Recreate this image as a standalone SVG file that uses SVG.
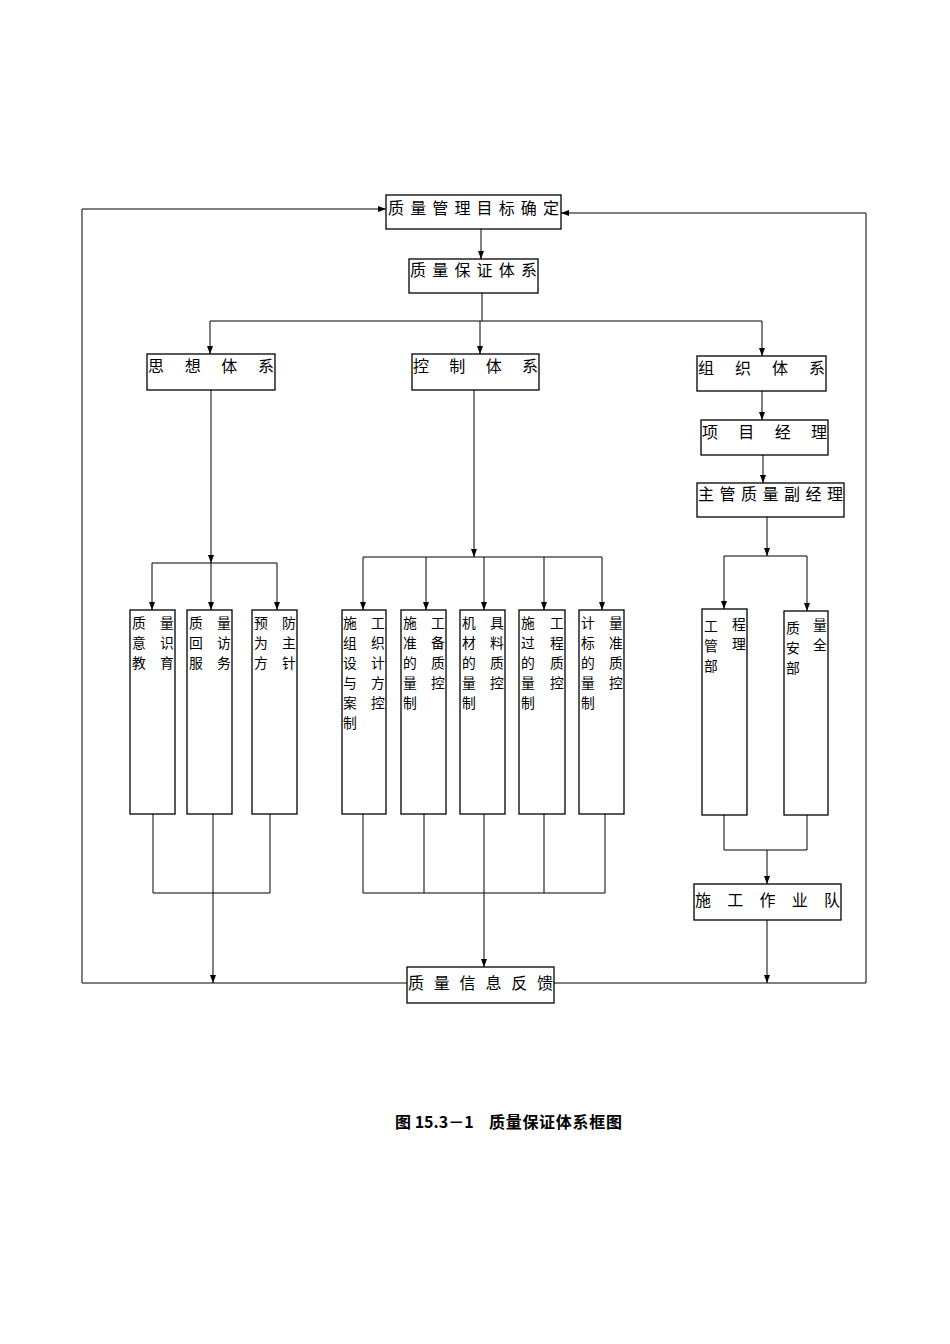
<svg xmlns="http://www.w3.org/2000/svg" width="950" height="1344" viewBox="0 0 950 1344">
<style>
.bg{fill:#fff}
.box{fill:#fff;stroke:#000;stroke-width:1.3}
.ln{fill:none;stroke:#000;stroke-width:1}
.t{font-family:"Noto Sans CJK SC","Noto Sans CJK JP",sans-serif;font-size:16px;fill:#000}
.v{font-family:"Noto Sans CJK SC","Noto Sans CJK JP",sans-serif;font-size:13.8px;fill:#000}
.cap{font-family:"Noto Sans CJK SC","Noto Sans CJK JP",sans-serif;font-size:16px;font-weight:bold;fill:#000}
</style>
<defs>
<marker id="arr" viewBox="0 0 8 6" refX="8" refY="3" markerWidth="8" markerHeight="6" markerUnits="userSpaceOnUse" orient="auto">
<path d="M0,0 L8,3 L0,6 z" fill="#000"/>
</marker>
</defs>
<rect class="bg" x="0" y="0" width="950" height="1344"/>

<g id="connectors">
<path class="ln" d="M481,229 V259" marker-end="url(#arr)"/>
<path class="ln" d="M482,293 V321"/>
<path class="ln" d="M210,321 H762"/>
<path class="ln" d="M210,321 V354" marker-end="url(#arr)"/>
<path class="ln" d="M480,321 V354" marker-end="url(#arr)"/>
<path class="ln" d="M762,321 V356" marker-end="url(#arr)"/>
<path class="ln" d="M211,390 V563" marker-end="url(#arr)"/>
<path class="ln" d="M152,563 H277"/>
<path class="ln" d="M152,563 V610" marker-end="url(#arr)"/>
<path class="ln" d="M211,563 V610" marker-end="url(#arr)"/>
<path class="ln" d="M277,563 V610" marker-end="url(#arr)"/>
<path class="ln" d="M474,390 V557" marker-end="url(#arr)"/>
<path class="ln" d="M363,557 H602"/>
<path class="ln" d="M363,557 V610" marker-end="url(#arr)"/>
<path class="ln" d="M426,557 V610" marker-end="url(#arr)"/>
<path class="ln" d="M484,557 V610" marker-end="url(#arr)"/>
<path class="ln" d="M544,557 V610" marker-end="url(#arr)"/>
<path class="ln" d="M602,557 V610" marker-end="url(#arr)"/>
<path class="ln" d="M762,391 V420" marker-end="url(#arr)"/>
<path class="ln" d="M763,455 V483" marker-end="url(#arr)"/>
<path class="ln" d="M767,517 V556" marker-end="url(#arr)"/>
<path class="ln" d="M724,556 H807"/>
<path class="ln" d="M724,556 V609" marker-end="url(#arr)"/>
<path class="ln" d="M807,556 V611" marker-end="url(#arr)"/>
<path class="ln" d="M153,814 V893 H270 V814"/>
<path class="ln" d="M213,814 V983" marker-end="url(#arr)"/>
<path class="ln" d="M363,814 V893 H605 V814"/>
<path class="ln" d="M424,814 V893"/>
<path class="ln" d="M544,814 V893"/>
<path class="ln" d="M484,814 V967" marker-end="url(#arr)"/>
<path class="ln" d="M724,815 V850 H807 V815"/>
<path class="ln" d="M767,850 V884" marker-end="url(#arr)"/>
<path class="ln" d="M767,920 V983" marker-end="url(#arr)"/>
<path class="ln" d="M407,983 H82 V209 H386" marker-end="url(#arr)"/>
<path class="ln" d="M554,983 H866 V213 H561" marker-end="url(#arr)"/>
</g>

<g id="n-goal">
<rect class="box" x="386" y="195" width="175" height="34"/>
<text class="t" x="388" y="214" textLength="171" lengthAdjust="spacing">质量管理目标确定</text>
</g>
<g id="n-qa">
<rect class="box" x="409" y="259" width="129" height="34"/>
<text class="t" x="410" y="276" textLength="127" lengthAdjust="spacing">质量保证体系</text>
</g>
<g id="n-thought">
<rect class="box" x="147" y="354" width="128" height="36"/>
<text class="t" x="148" y="372" textLength="126" lengthAdjust="spacing">思想体系</text>
</g>
<g id="n-control">
<rect class="box" x="412" y="354" width="127" height="36"/>
<text class="t" x="413" y="372" textLength="125" lengthAdjust="spacing">控制体系</text>
</g>
<g id="n-org">
<rect class="box" x="697" y="356" width="129" height="35"/>
<text class="t" x="698" y="374" textLength="127" lengthAdjust="spacing">组织体系</text>
</g>
<g id="n-pm">
<rect class="box" x="701" y="420" width="127" height="35"/>
<text class="t" x="702" y="438" textLength="125" lengthAdjust="spacing">项目经理</text>
</g>
<g id="n-vpm">
<rect class="box" x="697" y="483" width="147" height="34"/>
<text class="t" x="698" y="500" textLength="145" lengthAdjust="spacing">主管质量副经理</text>
</g>

<g id="n-edu">
<rect class="box" x="130" y="610" width="45" height="204"/>
<text class="v"><tspan x="132" y="628">质</tspan><tspan x="160" y="628">量</tspan><tspan x="132" y="648">意</tspan><tspan x="160" y="648">识</tspan><tspan x="132" y="668">教</tspan><tspan x="160" y="668">育</tspan></text>
</g>
<g id="n-visit">
<rect class="box" x="187" y="610" width="45" height="204"/>
<text class="v"><tspan x="189" y="628">质</tspan><tspan x="217" y="628">量</tspan><tspan x="189" y="648">回</tspan><tspan x="217" y="648">访</tspan><tspan x="189" y="668">服</tspan><tspan x="217" y="668">务</tspan></text>
</g>
<g id="n-prevent">
<rect class="box" x="252" y="610" width="45" height="204"/>
<text class="v"><tspan x="254" y="628">预</tspan><tspan x="282" y="628">防</tspan><tspan x="254" y="648">为</tspan><tspan x="282" y="648">主</tspan><tspan x="254" y="668">方</tspan><tspan x="282" y="668">针</tspan></text>
</g>

<g id="n-plan">
<rect class="box" x="342" y="610" width="44" height="204"/>
<text class="v"><tspan x="343" y="628">施</tspan><tspan x="371" y="628">工</tspan><tspan x="343" y="648">组</tspan><tspan x="371" y="648">织</tspan><tspan x="343" y="668">设</tspan><tspan x="371" y="668">计</tspan><tspan x="343" y="688">与</tspan><tspan x="371" y="688">方</tspan><tspan x="343" y="708">案</tspan><tspan x="371" y="708">控</tspan><tspan x="343" y="728">制</tspan></text>
</g>
<g id="n-prep">
<rect class="box" x="401" y="610" width="45" height="204"/>
<text class="v"><tspan x="403" y="628">施</tspan><tspan x="431" y="628">工</tspan><tspan x="403" y="648">准</tspan><tspan x="431" y="648">备</tspan><tspan x="403" y="668">的</tspan><tspan x="431" y="668">质</tspan><tspan x="403" y="688">量</tspan><tspan x="431" y="688">控</tspan><tspan x="403" y="708">制</tspan></text>
</g>
<g id="n-material">
<rect class="box" x="460" y="610" width="45" height="204"/>
<text class="v"><tspan x="462" y="628">机</tspan><tspan x="490" y="628">具</tspan><tspan x="462" y="648">材</tspan><tspan x="490" y="648">料</tspan><tspan x="462" y="668">的</tspan><tspan x="490" y="668">质</tspan><tspan x="462" y="688">量</tspan><tspan x="490" y="688">控</tspan><tspan x="462" y="708">制</tspan></text>
</g>
<g id="n-process">
<rect class="box" x="519" y="610" width="46" height="204"/>
<text class="v"><tspan x="521" y="628">施</tspan><tspan x="550" y="628">工</tspan><tspan x="521" y="648">过</tspan><tspan x="550" y="648">程</tspan><tspan x="521" y="668">的</tspan><tspan x="550" y="668">质</tspan><tspan x="521" y="688">量</tspan><tspan x="550" y="688">控</tspan><tspan x="521" y="708">制</tspan></text>
</g>
<g id="n-measure">
<rect class="box" x="579" y="610" width="45" height="204"/>
<text class="v"><tspan x="581" y="628">计</tspan><tspan x="609" y="628">量</tspan><tspan x="581" y="648">标</tspan><tspan x="609" y="648">准</tspan><tspan x="581" y="668">的</tspan><tspan x="609" y="668">质</tspan><tspan x="581" y="688">量</tspan><tspan x="609" y="688">控</tspan><tspan x="581" y="708">制</tspan></text>
</g>

<g id="n-eng">
<rect class="box" x="702" y="609" width="45" height="206"/>
<text class="v"><tspan x="704" y="631">工</tspan><tspan x="732" y="629">程</tspan><tspan x="704" y="651">管</tspan><tspan x="732" y="649">理</tspan><tspan x="704" y="671">部</tspan></text>
</g>
<g id="n-safety">
<rect class="box" x="784" y="611" width="44" height="204"/>
<text class="v"><tspan x="786" y="633">质</tspan><tspan x="813" y="630">量</tspan><tspan x="786" y="653">安</tspan><tspan x="813" y="650">全</tspan><tspan x="786" y="673">部</tspan></text>
</g>
<g id="n-team">
<rect class="box" x="694" y="884" width="147" height="36"/>
<text class="t" x="695" y="906" textLength="145" lengthAdjust="spacing">施工作业队</text>
</g>
<g id="n-feedback">
<rect class="box" x="407" y="967" width="147" height="36"/>
<text class="t" x="408" y="989" textLength="145" lengthAdjust="spacing">质量信息反馈</text>
</g>

<g id="caption">
<text class="cap" x="395" y="1128">图 15.3－1<tspan x="489" style="letter-spacing:0.7px">质量保证体系框图</tspan></text>
</g>
</svg>
